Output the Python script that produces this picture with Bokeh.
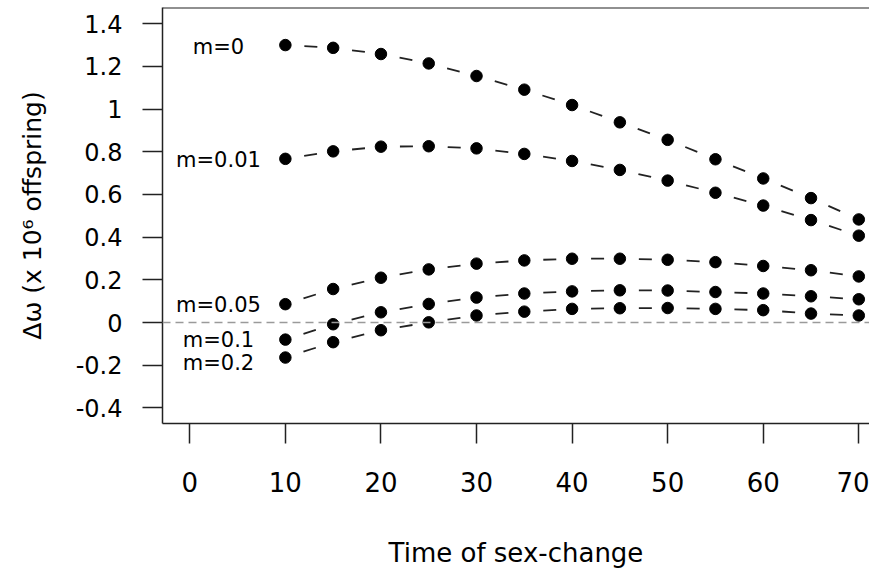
from bokeh.plotting import figure
from bokeh.models import Range1d, FixedTicker, Span, ColumnDataSource
from bokeh.core.properties import value
from bokeh.embed import file_html
from bokeh.resources import INLINE

# ---- data ----
time = [10, 15, 20, 25, 30, 35, 40, 45, 50, 55, 60, 65, 70]
m0    = [1.300, 1.287, 1.258, 1.214, 1.155, 1.091, 1.019, 0.938, 0.856, 0.765, 0.675, 0.583, 0.483]
m001  = [0.767, 0.802, 0.824, 0.826, 0.816, 0.790, 0.757, 0.715, 0.665, 0.608, 0.548, 0.480, 0.407]
m005  = [0.086, 0.157, 0.210, 0.249, 0.276, 0.291, 0.299, 0.299, 0.294, 0.283, 0.265, 0.245, 0.216]
m01   = [-0.080, -0.008, 0.048, 0.087, 0.117, 0.136, 0.146, 0.151, 0.150, 0.143, 0.136, 0.123, 0.109]
m02   = [-0.164, -0.092, -0.036, 0.001, 0.033, 0.051, 0.064, 0.067, 0.068, 0.064, 0.058, 0.042, 0.033]
series = [m0, m001, m005, m01, m02]
series_names = ["m=0", "m=0.01", "m=0.05", "m=0.1", "m=0.2"]
label_x = [3, 3, 3, 3, 3]
label_y = [1.29, 0.76, 0.08, -0.08, -0.19]
x_ticks = [0, 10, 20, 30, 40, 50, 60, 70]
y_ticks = [-0.4, -0.2, 0, 0.2, 0.4, 0.6, 0.8, 1, 1.2, 1.4]
y_tick_labels = ["-0.4", "-0.2", "0", "0.2", "0.4", "0.6", "0.8", "1", "1.2", "1.4"]
x_title = "Time of sex-change"
y_title = "\u0394\u03c9 (x 10\u2076 offspring)"

FONT = "DejaVu Sans"

p = figure(width=869, height=570, output_backend="svg", toolbar_location=None,
           x_range=Range1d(-2.857, 71.12), y_range=Range1d(-0.473, 1.476),
           min_border_left=162, min_border_right=0, min_border_top=7, min_border_bottom=147)
p.outline_line_color = None
p.xgrid.visible = False
p.ygrid.visible = False
p.background_fill_color = "white"

for ax in (p.xaxis[0], p.yaxis[0]):
    ax.axis_line_color = "#222222"
    ax.axis_line_width = 1.5
    ax.major_tick_line_color = "#222222"
    ax.major_tick_line_width = 1.5
    ax.major_tick_out = 20
    ax.major_tick_in = 0
    ax.minor_tick_line_color = None
    ax.major_label_text_font = FONT
    ax.major_label_text_color = "black"
    ax.axis_label_text_font = FONT
    ax.axis_label_text_font_style = "normal"
    ax.axis_label_text_color = "black"

p.xaxis.ticker = FixedTicker(ticks=x_ticks)
p.yaxis.ticker = FixedTicker(ticks=y_ticks)
p.yaxis.major_label_overrides = {t: s for t, s in zip(y_ticks, y_tick_labels)}
p.yaxis.major_label_orientation = "horizontal"
p.xaxis.major_label_text_font_size = "26px"
p.yaxis.major_label_text_font_size = "24px"
p.xaxis.axis_label_text_font_size = "26px"
p.yaxis.axis_label_text_font_size = "25px"
p.xaxis.major_label_standoff = 28
p.yaxis.major_label_standoff = 20
p.xaxis.axis_label = x_title
p.yaxis.axis_label = y_title
p.xaxis.axis_label_standoff = 43
p.yaxis.axis_label_standoff = 26

# top border of the box
p.add_layout(Span(location=p.y_range.end, dimension="width", line_color="#222222", line_width=2))
# zero reference line
p.add_layout(Span(location=0, dimension="width", line_color="#9a9a9a", line_width=1.5, line_dash="8 5"))

for ys in series:
    src = ColumnDataSource(dict(x0=time[:-1], y0=ys[:-1], x1=time[1:], y1=ys[1:]))
    p.segment(x0="x0", y0="y0", x1="x1", y1="y1", source=src, line_color="#222222",
              line_width=1.8, line_dash="13 100", line_dash_offset=94)
    p.scatter(time, ys, size=11.5, fill_color="black", line_color="black", marker="circle")

p.text(x=label_x, y=label_y, text=series_names, text_align="center", text_baseline="middle",
       text_font=value(FONT), text_font_size="21px", text_color="black")

open("out.html", "w").write(file_html(p, INLINE))
